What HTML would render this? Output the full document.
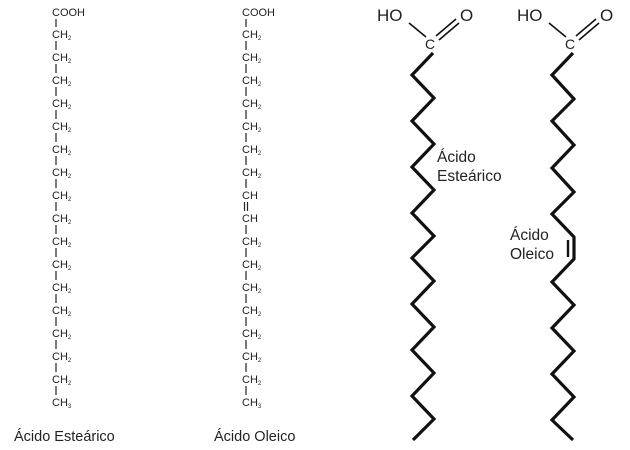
<!DOCTYPE html>
<html><head><meta charset="utf-8"><style>
html,body{margin:0;padding:0;background:#fff;}
svg{display:block;}
.t{font-family:"Liberation Sans",sans-serif;fill:#222;}
</style></head><body>
<svg width="630" height="450" viewBox="0 0 630 450" xmlns="http://www.w3.org/2000/svg">
<g class="t" font-size="11">
<text x="52" y="16">COOH</text>
<text x="52" y="38">CH<tspan font-size="6" dy="2">2</tspan></text>
<text x="52" y="61">CH<tspan font-size="6" dy="2">2</tspan></text>
<text x="52" y="84">CH<tspan font-size="6" dy="2">2</tspan></text>
<text x="52" y="107">CH<tspan font-size="6" dy="2">2</tspan></text>
<text x="52" y="130">CH<tspan font-size="6" dy="2">2</tspan></text>
<text x="52" y="153">CH<tspan font-size="6" dy="2">2</tspan></text>
<text x="52" y="176">CH<tspan font-size="6" dy="2">2</tspan></text>
<text x="52" y="199">CH<tspan font-size="6" dy="2">2</tspan></text>
<text x="52" y="222">CH<tspan font-size="6" dy="2">2</tspan></text>
<text x="52" y="245">CH<tspan font-size="6" dy="2">2</tspan></text>
<text x="52" y="268">CH<tspan font-size="6" dy="2">2</tspan></text>
<text x="52" y="291">CH<tspan font-size="6" dy="2">2</tspan></text>
<text x="52" y="314">CH<tspan font-size="6" dy="2">2</tspan></text>
<text x="52" y="337">CH<tspan font-size="6" dy="2">2</tspan></text>
<text x="52" y="360">CH<tspan font-size="6" dy="2">2</tspan></text>
<text x="52" y="383">CH<tspan font-size="6" dy="2">2</tspan></text>
<text x="52" y="406">CH<tspan font-size="6" dy="2">3</tspan></text>

<text x="242" y="16">COOH</text>
<text x="242" y="38">CH<tspan font-size="6" dy="2">2</tspan></text>
<text x="242" y="61">CH<tspan font-size="6" dy="2">2</tspan></text>
<text x="242" y="84">CH<tspan font-size="6" dy="2">2</tspan></text>
<text x="242" y="107">CH<tspan font-size="6" dy="2">2</tspan></text>
<text x="242" y="130">CH<tspan font-size="6" dy="2">2</tspan></text>
<text x="242" y="153">CH<tspan font-size="6" dy="2">2</tspan></text>
<text x="242" y="176">CH<tspan font-size="6" dy="2">2</tspan></text>
<text x="242" y="199">CH</text>
<text x="242" y="222">CH</text>
<text x="242" y="245">CH<tspan font-size="6" dy="2">2</tspan></text>
<text x="242" y="268">CH<tspan font-size="6" dy="2">2</tspan></text>
<text x="242" y="291">CH<tspan font-size="6" dy="2">2</tspan></text>
<text x="242" y="314">CH<tspan font-size="6" dy="2">2</tspan></text>
<text x="242" y="337">CH<tspan font-size="6" dy="2">2</tspan></text>
<text x="242" y="360">CH<tspan font-size="6" dy="2">2</tspan></text>
<text x="242" y="383">CH<tspan font-size="6" dy="2">2</tspan></text>
<text x="242" y="406">CH<tspan font-size="6" dy="2">3</tspan></text>
</g>
<g stroke="#222" stroke-width="1.2">
<path d="M56 19V27 M56 41V50 M56 64V73 M56 87V96 M56 110V119 M56 133V142 M56 156V165 M56 179V188 M56 202V211 M56 225V234 M56 248V257 M56 271V280 M56 294V303 M56 317V326 M56 340V349 M56 363V372 M56 386V395"/>
<path d="M246 19V27 M246 41V50 M246 64V73 M246 87V96 M246 110V119 M246 133V142 M246 156V165 M246 179V188 M244.5 202V211 M247.5 202V211 M246 225V234 M246 248V257 M246 271V280 M246 294V303 M246 317V326 M246 340V349 M246 363V372 M246 386V395"/>
</g>
<g class="t" font-size="14.5">
<text x="14" y="441">Ácido Esteárico</text>
<text x="214" y="441">Ácido Oleico</text>
</g>

<g class="t" font-size="17">
<text x="377" y="21">HO</text>
<text x="460" y="21">O</text>
<text x="517" y="21">HO</text>
<text x="600" y="21">O</text>
</g>
<g class="t" font-size="14">
<text x="425" y="49">C</text>
<text x="565" y="49">C</text>
</g>
<g class="t" font-size="15.5">
<text x="437" y="162">Ácido</text>
<text x="437" y="181">Esteárico</text>
<text x="510" y="240">Ácido</text>
<text x="510" y="259">Oleico</text>
</g>
<g stroke="#111" stroke-width="1.6" fill="none">
<path d="M409 23L426 37"/>
<path d="M436 36L456 19 M439 40L459 23"/>
<path d="M549 23L566 37"/>
<path d="M576 36L596 19 M579 40L599 23"/>
</g>
<g stroke="#111" stroke-width="3.2" fill="none" stroke-linejoin="miter">
<polyline points="433,53 412,75 434,98 412,121 434,144 412,167 434,190 412,213 434,236 412,258 434,281 412,304 434,327 412,350 434,373 412,396 434,419 413,440"/>
<polyline points="573,53 552,75 574,99 552,121 574,145 552,168 574,192 552,214 574,237 574,259 552,282 574,305 552,328 574,351 552,374 574,397 552,420 573,440"/>
<path d="M568 240V257" stroke-width="2.4"/>
</g>
</svg>
</body></html>
